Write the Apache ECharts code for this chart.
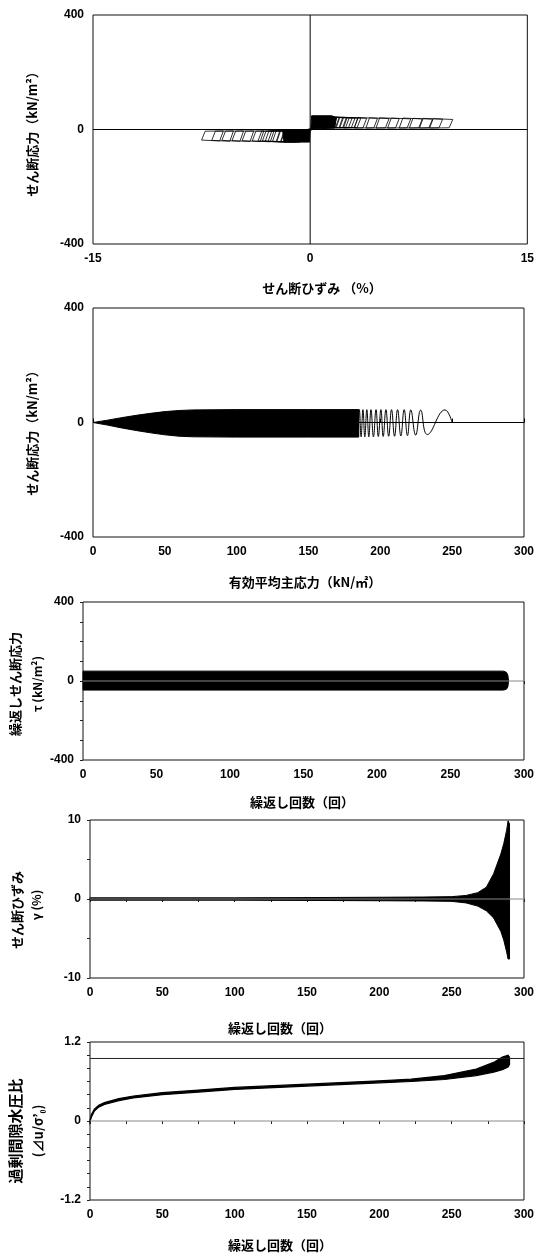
<!DOCTYPE html>
<html><head><meta charset="utf-8">
<script src="https://cdn.jsdelivr.net/npm/echarts@6/dist/echarts.min.js"></script>
<style>html,body{margin:0;padding:0;background:#fff}#c{width:537px;height:1257px}</style>
</head><body><div id="c"></div>
<script>
// ---------- Panel 1 : shear stress vs shear strain ----------
const p1XTicks = [-15, 0, 15];
const p1YTicks = [-400, 0, 400];
// dense core around the origin [strain %, stress kN/m2]
const p1CoreStrain = [-1.8, -1.9, -0.3, 0.05, 0.1, 1.5, 1.8, 1.7, 0.3, 0.0, -0.05];
const p1CoreTau    = [-44, -4, -1, 3, 48, 48, 40, 5, 2, -3, -44];
// positive-side loops: left strain, right strain, top stress, bottom stress
const p1PosLeft  = [0.2, 0.5, 0.8, 1.0, 1.2, 1.4, 1.6, 1.8, 2.0, 2.3, 3.05, 3.85, 4.55, 5.35, 6.15, 6.85, 7.55, 8.25];
const p1PosRight = [1.7, 2.0, 2.3, 2.5, 2.7, 2.9, 3.1, 3.3, 3.5, 3.9, 4.65, 5.45, 6.15, 6.95, 7.75, 8.45, 9.15, 9.85];
const p1PosTop   = [46, 45, 44, 44, 44, 43, 43, 43, 43, 42, 42, 41, 41, 40, 40, 39, 39, 38];
const p1PosBot   = [6, 6, 6, 6, 6, 6, 6, 6, 6, 5, 5, 5, 5, 5, 5, 5, 5, 5];
// negative-side loops
const p1NegLeft  = [-7.5, -6.8, -6.1, -5.4, -4.7, -4.0, -3.6, -3.3, -3.1, -2.9, -2.6, -2.3, -2.0];
const p1NegRight = [-6.0, -5.3, -4.6, -3.9, -3.2, -2.5, -2.1, -1.8, -1.6, -1.4, -1.1, -0.8, -0.5];
const p1NegTop   = [-5, -5, -5, -5, -5, -5, -5, -5, -4, -4, -4, -4, -4];
const p1NegBot   = [-40, -41, -41, -42, -42, -43, -43, -43, -44, -44, -44, -45, -45];

// ---------- Panel 2 : shear stress vs mean effective stress ----------
const p2XTicks = [0, 50, 100, 150, 200, 250, 300];
const p2YTicks = [-400, 0, 400];
const p2BandP     = [0, 10, 20, 30, 40, 50, 60, 70, 100, 150, 185];
const p2BandUpper = [0, 8, 17, 25, 32, 38, 42, 44, 45, 45, 45];
const p2BandLower = [0, -9, -19, -28, -36, -43, -48, -50, -51, -51, -51];
const p2PathP   = [250, 245, 232.7, 228.1, 224.6, 221.2, 218.9, 216.6, 214.3, 212.0, 209.9, 207.8, 205.8, 203.9, 202.0, 200.4, 198.6, 197.0, 195.2, 193.5, 192.0, 190.6, 189.2, 187.9, 186.6, 185.4, 184.2, 183.1, 182.0, 181.0, 180.0];
const p2PathTau = [0, 44, -42, 43, -44, 44, -46, 45, -47, 45, -48, 45, -48, 45, -49, 45, -49, 45, -50, 45, -50, 45, -50, 45, -50, 45, -50, 45, -50, 45, -50];

// ---------- Panel 3 : cyclic shear stress vs number of cycles ----------
const cycleTicks = [0, 50, 100, 150, 200, 250, 300];
const p3YTicks = [-400, 0, 400];
const p3Cycles = [0, 286, 288, 289, 289.5];
const p3Upper  = [50, 50, 44, 30, 0];
const p3Lower  = [-46, -46, -42, -30, 0];

// ---------- Panel 4 : shear strain vs number of cycles ----------
const p4YTicks = [-10, 0, 10];
const p4Cycles = [0, 100, 150, 200, 230, 250, 260, 268, 274, 279, 284, 286, 288, 289, 290];
const p4Upper  = [0.15, 0.15, 0.18, 0.22, 0.25, 0.3, 0.45, 0.8, 1.5, 3.2, 5.7, 7.0, 8.7, 9.9, 9.5];
const p4Lower  = [-0.15, -0.15, -0.18, -0.22, -0.25, -0.3, -0.5, -0.9, -1.5, -2.4, -4.1, -5.2, -6.7, -7.6, -7.6];

// ---------- Panel 5 : excess pore water pressure ratio ----------
const p5YTicks = [-1.2, 0, 1.2];
const p5Cycles = [0, 1, 3, 6, 10, 20, 30, 50, 75, 100, 150, 200, 222, 245, 267, 279, 285, 289, 290];
const p5Upper  = [0.01, 0.10, 0.18, 0.24, 0.28, 0.34, 0.38, 0.43, 0.47, 0.51, 0.56, 0.61, 0.635, 0.69, 0.79, 0.89, 0.97, 1.00, 0.97];
const p5Lower  = [-0.01, 0.06, 0.15, 0.21, 0.25, 0.31, 0.35, 0.40, 0.44, 0.48, 0.53, 0.58, 0.60, 0.63, 0.69, 0.74, 0.78, 0.82, 0.86];
const p5LiqLine = 0.95;

// ---------- helpers ----------
const NUM_FONT = 'Liberation Sans';
const JP_FONT = 'Noto Sans CJK JP';
function zip(a, b) { return a.map((v, i) => [v, b[i]]); }
function band(xs, up, lo) {
  return zip(xs, up).concat(zip(xs, lo).reverse());
}
function polySeries(idx, shapes, fill, stroke, lw) {
  return {
    type: 'custom', xAxisIndex: idx, yAxisIndex: idx, silent: true, animation: false,
    data: shapes.map(s => s[0]),
    renderItem: function (params, api) {
      const s = shapes[params.dataIndex];
      return { type: 'polygon', shape: { points: s.map(p => api.coord(p)) },
        style: { fill: fill, stroke: stroke, lineWidth: lw } };
    }
  };
}
function lineSeries(idx, data, color, width, smooth) {
  return { type: 'line', xAxisIndex: idx, yAxisIndex: idx, data: data, showSymbol: false, symbol: 'none',
    smooth: smooth || false, silent: true, animation: false, lineStyle: { color: color, width: width } };
}
function axis(idx, ticks, extra) {
  const base = {
    gridIndex: idx, type: 'value', min: ticks[0], max: ticks[ticks.length - 1], interval: ticks[1] - ticks[0],
    axisLine: { show: false }, splitLine: { show: false }, axisTick: { show: false },
    axisLabel: { color: '#000', fontFamily: NUM_FONT, fontWeight: 'bold', fontSize: 12, margin: 9 }
  };
  return Object.assign(base, extra || {});
}
const tickOut = (n) => ({ axisTick: { show: true, length: 3, lineStyle: { color: '#222' } },
  minorTick: { show: n > 1, splitNumber: n, length: 3, lineStyle: { color: '#222' } } });

// ---------- shapes ----------
const p1Shapes = [];
p1PosLeft.forEach((l, i) => {
  const r = p1PosRight[i], t = p1PosTop[i], b = p1PosBot[i];
  p1Shapes.push([[l, b], [l + 0.25, t], [r, t - 3], [r - 0.25, b + 1]]);
});
p1NegLeft.forEach((l, i) => {
  const r = p1NegRight[i], t = p1NegTop[i], b = p1NegBot[i];
  p1Shapes.push([[r, t], [r - 0.25, b], [l, b + 3], [l + 0.25, t - 1]]);
});
const p1Core = [zip(p1CoreStrain, p1CoreTau)];

const grids = [
  { left: 93, top: 15, width: 435, height: 229 },
  { left: 93, top: 308, width: 434, height: 229 },
  { left: 83, top: 602, width: 444, height: 158 },
  { left: 90, top: 820, width: 445, height: 158 },
  { left: 90, top: 1042, width: 445, height: 158 }
].map(g => Object.assign(g, { show: true, borderColor: '#111', borderWidth: 1, backgroundColor: 'transparent' }));

const xAxes = [
  axis(0, p1XTicks),
  axis(1, p2XTicks, { axisTick: { show: true, inside: true, length: 4, lineStyle: { color: '#000' } } }),
  axis(2, cycleTicks, tickOut(2)),
  axis(3, cycleTicks, tickOut(2)),
  axis(4, cycleTicks, tickOut(2))
];
const yAxes = [
  axis(0, p1YTicks),
  axis(1, p2YTicks),
  axis(2, p3YTicks, tickOut(4)),
  axis(3, p4YTicks, tickOut(2)),
  axis(4, p5YTicks, tickOut(6))
];

const series = [
  // panel 1
  lineSeries(0, [[p1XTicks[0], 0], [p1XTicks[2], 0]], '#000', 1),
  lineSeries(0, [[0, p1YTicks[0]], [0, p1YTicks[2]]], '#000', 1),
  polySeries(0, p1Core, '#000', '#000', 1),
  polySeries(0, p1Shapes, 'none', '#000', 0.8),
  // panel 2
  lineSeries(1, [[p2XTicks[0], 0], [p2XTicks[6], 0]], '#000', 1),
  polySeries(1, [band(p2BandP, p2BandUpper, p2BandLower)], '#000', '#000', 1),
  lineSeries(1, zip(p2PathP, p2PathTau), '#000', 1, 0.45),
  // panel 3
  lineSeries(2, [[cycleTicks[0], 0], [cycleTicks[6], 0]], '#888', 1),
  polySeries(2, [band(p3Cycles, p3Upper, p3Lower)], '#000', '#000', 1),
  // panel 4
  lineSeries(3, [[cycleTicks[0], 0], [cycleTicks[6], 0]], '#888', 1),
  polySeries(3, [band(p4Cycles, p4Upper, p4Lower)], '#000', '#000', 1),
  // panel 5
  lineSeries(4, [[cycleTicks[0], 0], [cycleTicks[6], 0]], '#888', 1),
  lineSeries(4, [[cycleTicks[0], p5LiqLine], [cycleTicks[6], p5LiqLine]], '#222', 1),
  polySeries(4, [band(p5Cycles, p5Upper, p5Lower)], '#000', '#000', 1.2)
];

function txt(text, x, y, size, rot) {
  return { type: 'text', x: x, y: y, rotation: rot ? Math.PI / 2 : 0, silent: true,
    style: { text: text, fill: '#000', font: 'bold ' + size + 'px "' + JP_FONT + '"', textAlign: 'center', textVerticalAlign: 'middle' } };
}
const graphics = [
  txt('せん断応力（kN/m²）', 32, 131, 13, true),
  txt('せん断ひずみ （%）', 322, 288, 13),
  txt('せん断応力（kN/m²）', 32, 430, 13, true),
  txt('有効平均主応力（kN/㎡）', 305, 582, 13),
  txt('繰返しせん断応力', 15, 684, 13, true),
  txt('τ (kN/m²)', 37, 684, 12, true),
  txt('繰返し回数（回）', 302, 802, 13),
  txt('せん断ひずみ', 17, 910, 13, true),
  txt('γ (%)', 36, 905, 12, true),
  txt('繰返し回数（回）', 280, 1028, 13),
  txt('過剰間隙水圧比', 15, 1131, 15, true),
  txt('(⊿u/σ’₀)', 38, 1131, 13, true),
  txt('繰返し回数（回）', 280, 1245, 13)
];

const chart = echarts.init(document.getElementById('c'), null, { renderer: 'canvas' });
chart.setOption({
  animation: false,
  backgroundColor: '#fff',
  grid: grids, xAxis: xAxes, yAxis: yAxes, series: series,
  graphic: graphics
});
</script></body></html>
